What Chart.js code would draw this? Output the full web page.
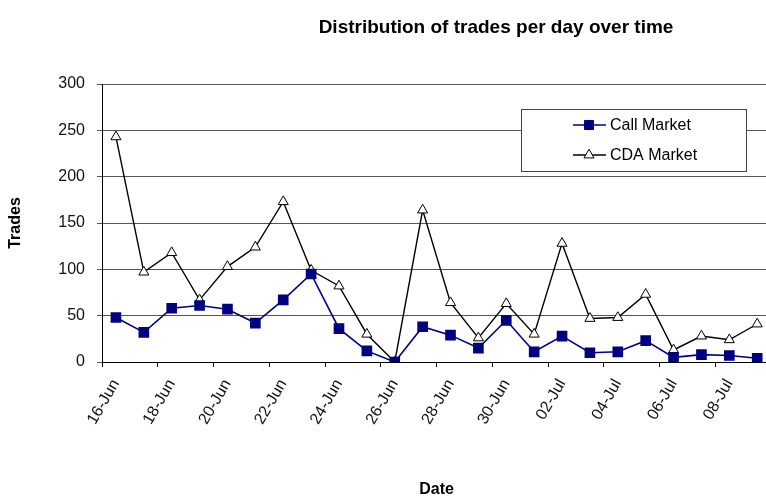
<!DOCTYPE html>
<html>
<head>
<meta charset="utf-8">
<script src="https://cdn.jsdelivr.net/npm/chart.js@4/dist/chart.umd.min.js"></script>
<style>
	html, body { margin: 0; padding: 0; background: #fff; overflow: hidden; }
</style>
</head>
<body>
<canvas id="graficoTrades" width="783" height="499"></canvas>
<script>
/* Dados */
var datas = ['16-Jun', '17-Jun', '18-Jun', '19-Jun', '20-Jun', '21-Jun', '22-Jun', '23-Jun',
	'24-Jun', '25-Jun', '26-Jun', '27-Jun', '28-Jun', '29-Jun', '30-Jun', '01-Jul',
	'02-Jul', '03-Jul', '04-Jul', '05-Jul', '06-Jul', '07-Jul', '08-Jul', '09-Jul'];
var callMarket = [48, 32, 58, 61, 57, 42, 67, 95, 36, 12, 0, 38, 29, 15, 45, 11, 28, 10, 11, 23, 5, 8, 7, 4];
var cdaMarket = [243, 97, 118, 67, 103, 124, 173, 99, 82, 30, 0, 164, 64, 26, 63, 30, 128, 47, 48, 73, 13, 28, 24, 41];
var yTicks = [0, 50, 100, 150, 200, 250, 300];

Chart.defaults.font.family = '"Liberation Sans", Arial, sans-serif';
Chart.defaults.color = '#000';

var SistemaTrades = SistemaTrades || {};

SistemaTrades.titulo = {
	id: 'tituloTrades',
	afterDraw: function(chart) {
		var ctx = chart.ctx;
		ctx.save();
		ctx.font = 'bold 19px "Liberation Sans", Arial, sans-serif';
		ctx.fillStyle = '#000';
		ctx.textAlign = 'center';
		ctx.textBaseline = 'middle';
		ctx.fillText('Distribution of trades per day over time', 496, 28);
		ctx.restore();
	}
};

SistemaTrades.legenda = {
	id: 'legendaInterna',
	beforeDatasetsDraw: function(chart) {
		var ctx = chart.ctx;
		ctx.save();
		ctx.fillStyle = '#fff';
		ctx.fillRect(521, 109, 225, 62);
		ctx.strokeStyle = '#444';
		ctx.lineWidth = 1;
		ctx.strokeRect(521.5, 109.5, 225, 62);
		chart.data.datasets.forEach(function(ds, i) {
			var y = 125 + i * 30;
			ctx.strokeStyle = ds.borderColor;
			ctx.lineWidth = ds.borderWidth;
			ctx.beginPath();
			ctx.moveTo(573, y);
			ctx.lineTo(606, y);
			ctx.stroke();
			ctx.fillStyle = ds.pointBackgroundColor;
			ctx.strokeStyle = ds.pointBorderColor;
			ctx.lineWidth = 1;
			Chart.helpers.drawPoint(ctx, { pointStyle: ds.pointStyle, radius: ds.pointRadius, borderWidth: 1, rotation: 0 }, 589, y);
			ctx.fillStyle = '#000';
			ctx.font = '16px "Liberation Sans", Arial, sans-serif';
			ctx.textAlign = 'left';
			ctx.textBaseline = 'middle';
			ctx.fillText(ds.label, 610, y + 1);
		});
		ctx.restore();
	}
};

var grafico = new Chart(document.getElementById('graficoTrades').getContext('2d'), {
	type: 'line',
	data: {
		labels: datas,
		datasets: [{
			label: 'Call Market',
			data: callMarket,
			borderColor: '#000080',
			borderWidth: 1.6,
			pointStyle: 'rect',
			pointRadius: 6.4,
			pointBackgroundColor: '#000080',
			pointBorderColor: '#000080',
			tension: 0
		}, {
			label: 'CDA Market',
			data: cdaMarket,
			borderColor: '#000',
			borderWidth: 1.4,
			pointStyle: 'triangle',
			pointRadius: 5.8,
			pointBackgroundColor: '#fff',
			pointBorderColor: '#000',
			pointBorderWidth: 1,
			tension: 0
		}]
	},
	options: {
		responsive: false,
		animation: false,
		layout: { padding: { top: 84, right: 0, bottom: 0, left: 0 } },
		plugins: {
			legend: { display: false },
			title: { display: false },
			tooltip: { enabled: false }
		},
		scales: {
			x: {
				offset: true,
				grid: {
					offset: true,
					drawOnChartArea: false,
					drawTicks: true,
					tickLength: 5,
					color: function(c) { return c.index % 2 === 0 ? '#000' : 'rgba(0,0,0,0)'; }
				},
				border: { color: '#000', width: 1 },
				ticks: {
					autoSkip: false,
					maxRotation: 60,
					minRotation: 60,
					padding: 9,
					font: { size: 16 },
					color: '#111',
					callback: function(v, i) { return i % 2 === 0 ? datas[i] : ''; }
				},
				title: {
					display: true,
					text: 'Date',
					font: { size: 16, weight: 'bold' },
					padding: { top: 0, bottom: 0 }
				},
				afterFit: function(s) { s.height = 137; }
			},
			y: {
				min: 0,
				max: 300,
				afterBuildTicks: function(s) { s.ticks = yTicks.map(function(v) { return { value: v }; }); },
				grid: { color: '#555', tickLength: 5 },
				border: { color: '#000', width: 1 },
				ticks: { padding: 12, font: { size: 16 }, color: '#111' },
				title: {
					display: true,
					text: 'Trades',
					font: { size: 16, weight: 'bold' },
					padding: { top: 6, bottom: 0 }
				},
				afterFit: function(s) { s.width = 102; }
			}
		}
	},
	plugins: [SistemaTrades.legenda, SistemaTrades.titulo]
});
</script>
</body>
</html>
